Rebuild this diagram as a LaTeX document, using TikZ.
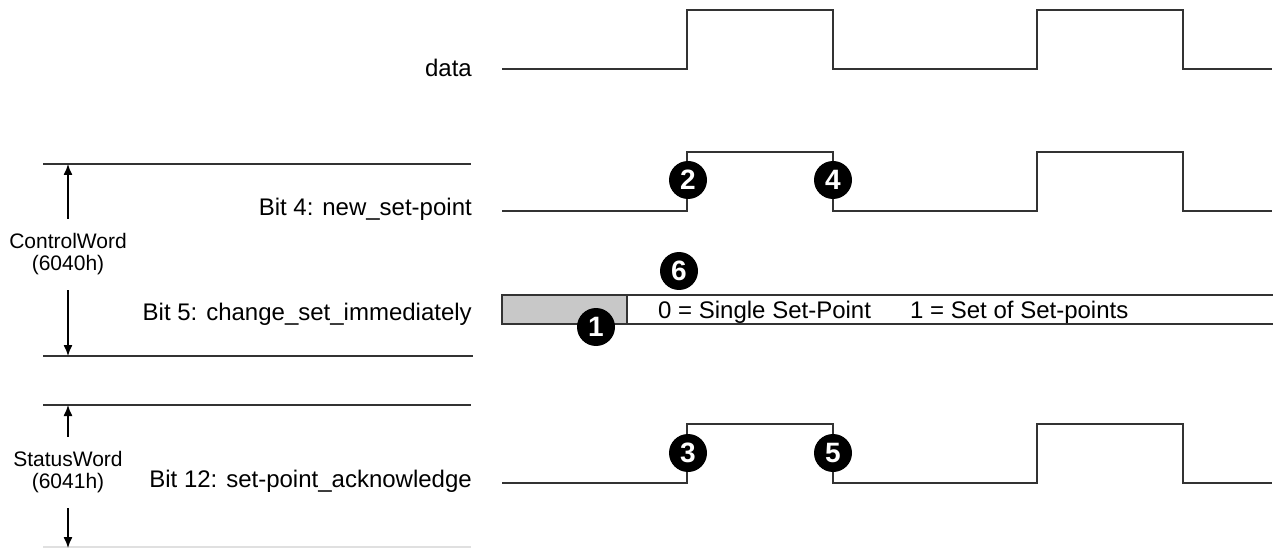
\documentclass[tikz,border=0pt]{standalone}
\usepackage{fontspec}
\setmainfont{Liberation Sans}
\usetikzlibrary{arrows.meta}
\definecolor{bargray}{HTML}{C8C8C8}
\definecolor{inkgray}{HTML}{333333}

\begin{document}
\begin{tikzpicture}[
  x=1pt, y=-1pt,
  font=\fontsize{24}{28}\selectfont,
  wave/.style={line width=1.5pt, draw=inkgray},
  rule/.style={line width=1.4pt, draw=inkgray},
  label/.style={anchor=base east, inner sep=0pt},
  word/.style={align=center, inner xsep=0pt, inner ysep=15pt, font=\fontsize{21}{22}\selectfont},
  dim/.style={-{Latex[length=11pt,width=9pt]}, line width=1.3pt},
  numdot/.style={circle, fill=black, text=white, minimum size=38pt, inner sep=0pt, font=\fontsize{28}{28}\selectfont\bfseries}
]
\useasboundingbox (0,0) rectangle (1275,548);

% signal names
\node[label] (data) at (472,77) {data};
\node[label] (b4) at (472,216) {Bit 4: new\_set-point};
\node[label] (b5) at (472,320) {Bit 5: change\_set\_immediately};
\node[label] (b12) at (472,487) {Bit 12: set-point\_acknowledge};

% register brackets
\draw[rule] (43,164) -- (471,164);
\draw[rule] (43,356) -- (473,356);
\draw[rule] (43,405) -- (471,405);
\draw[line width=1.4pt, draw=black!12] (43,547) -- (471,547);

\node[word] (cw) at (68,254.5) {ControlWord\\(6040h)};
\node[word] (sw) at (68,472.5) {StatusWord\\(6041h)};
\coordinate (cwtop) at (68,164);
\coordinate (cwbot) at (68,356);
\coordinate (swtop) at (68,405);
\coordinate (swbot) at (68,548);
\draw[dim] (cw.north) -- (cwtop);
\draw[dim] (cw.south) -- (cwbot);
\draw[dim] (sw.north) -- (swtop);
\draw[dim] (sw.south) -- (swbot);

% waveforms
\foreach \lo/\hi in {69/10, 211/152, 483/424}
  \draw[wave] (502,\lo) -| (687,\hi) -| (833,\lo) -| (1037,\hi) -| (1183,\lo) -- (1272,\lo);

% change_set_immediately bar
\draw[wave, fill=bargray] (502,295) rectangle (627,324);
\draw[wave] (627,295) -- (1273,295);
\draw[wave] (627,324) -- (1273,324);
\node[anchor=base west, inner sep=0pt] (single) at (658,318) {0 = Single Set-Point};
\node[anchor=base west, inner sep=0pt] (setof) at (910,318) {1 = Set of Set-points};

% step markers
\node[numdot] (n1) at (596,327) {1};
\node[numdot] (n2) at (688,180) {2};
\node[numdot] (n3) at (688,453) {3};
\node[numdot] (n4) at (833,180) {4};
\node[numdot] (n5) at (833,453) {5};
\node[numdot] (n6) at (679,271) {6};

\end{tikzpicture}
\end{document}
